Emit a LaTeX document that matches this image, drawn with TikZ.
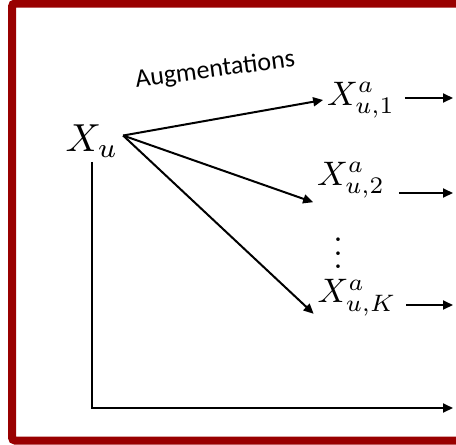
\documentclass[tikz,border=0pt]{standalone}
\usepackage{fontspec}
\newfontfamily\calibri{Carlito}
\usetikzlibrary{arrows.meta,positioning}
\definecolor{framered}{RGB}{153,0,0}
\tikzset{>={Triangle[length=10pt,width=9pt]},
  var/.style={inner sep=1pt, scale=3.4},
  link/.style={->, line width=2pt}}

\begin{document}
\begin{tikzpicture}[x=1pt, y=-1pt]
  \useasboundingbox (0,0) rectangle (456,445);
  \draw[framered, line width=8pt, rounded corners=3pt] (12,3.5) rectangle (460,440.5);
  \node[var, scale=1.15] (xu) at (92,141) {$X_u$};
  \node[var] (xa1) at (361,100) {$X^a_{u,1}$};
  \node[var] (xa2) at (351,180) {$X^a_{u,2}$};
  \node[var] (dots) at (338,243) {$\vdots$};
  \node[var] (xaK) at (357,298) {$X^a_{u,K}$};
  \node[font=\calibri, scale=2.6, anchor=base, rotate=7.5] (aug) at (216,77) {Augmentations};
  \coordinate (out1) at (453,98);
  \coordinate (out2) at (453,193);
  \coordinate (outK) at (453,305);
  \coordinate (outU) at (453,408);
  % augmentations
  \draw[link] (xu.10) -- (xa1.west);
  \draw[link] (xu.10) -- (xa2.south west);
  \draw[link] (xu.10) -- (xaK.200);
  % outputs
  \draw[link, shorten <=6pt] (xa1.east |- out1) -- (out1);
  \draw[link, shorten <=10pt] (xa2.east |- out2) -- (out2);
  \draw[link, shorten <=6pt] (xaK.east |- outK) -- (outK);
  \draw[link] (xu.south) |- (outU);
\end{tikzpicture}
\end{document}
